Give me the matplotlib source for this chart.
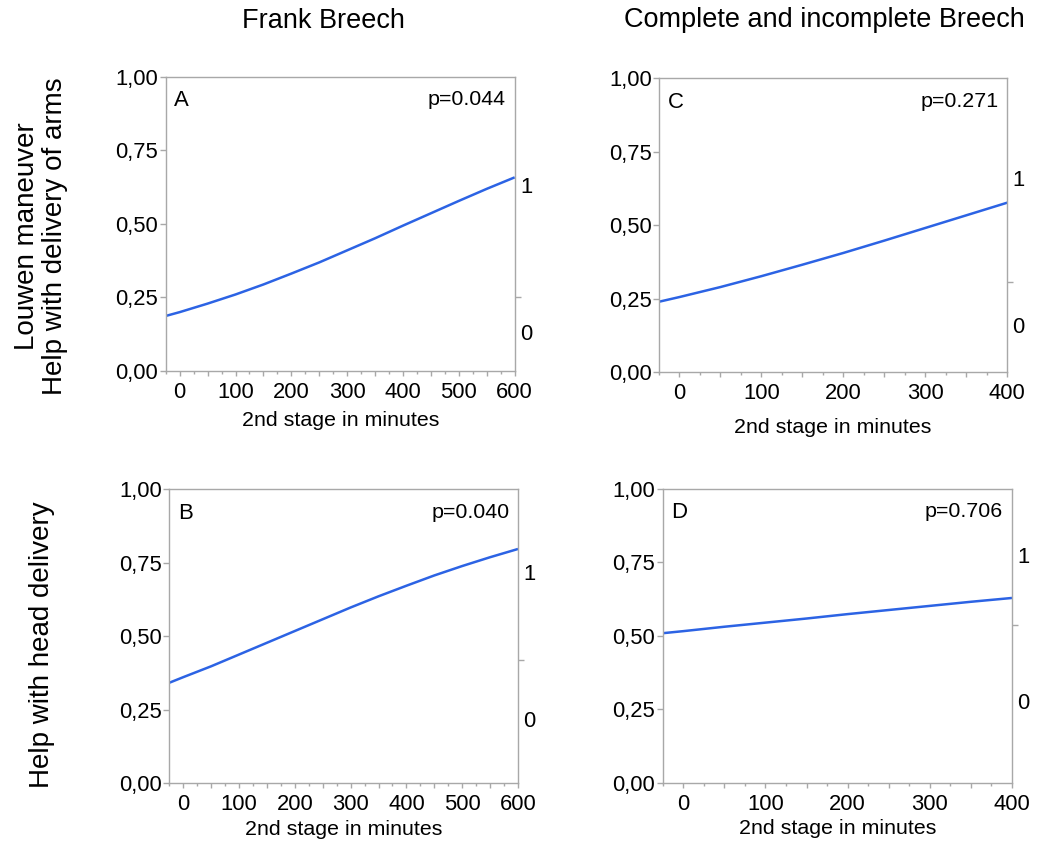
import matplotlib
matplotlib.use("Agg")
import matplotlib.pyplot as plt
from matplotlib.ticker import MultipleLocator, FixedLocator, FuncFormatter

plt.rcParams['font.family'] = ['Liberation Sans', 'DejaVu Sans']

# ---- data ----
col_titles = ["Frank Breech", "Complete and incomplete Breech"]
row_labels = ["Louwen maneuver\nHelp with delivery of arms", "Help with head delivery"]
panel_letters = ["A", "C", "B", "D"]
p_values = ["p=0.044", "p=0.271", "p=0.040", "p=0.706"]
x_max = [600, 400, 600, 400]
right_split = [0.25, 0.308, 0.42, 0.536]

x_A = [-25, 0, 50, 100, 150, 200, 250, 300, 350, 400, 450, 500, 550, 600]
y_A = [0.187, 0.200, 0.229, 0.260, 0.294, 0.331, 0.369, 0.410, 0.451, 0.494, 0.536, 0.578, 0.619, 0.658]

x_C = [-25, 0, 50, 100, 150, 200, 250, 300, 350, 400]
y_C = [0.240, 0.256, 0.290, 0.327, 0.366, 0.406, 0.448, 0.491, 0.534, 0.577]

x_B = [-25, 0, 50, 100, 150, 200, 250, 300, 350, 400, 450, 500, 550, 600]
y_B = [0.342, 0.361, 0.398, 0.438, 0.478, 0.518, 0.558, 0.598, 0.636, 0.672, 0.707, 0.739, 0.769, 0.797]

x_D = [-25, 0, 50, 100, 150, 200, 250, 300, 350, 400]
y_D = [0.509, 0.516, 0.531, 0.545, 0.559, 0.574, 0.588, 0.602, 0.616, 0.629]

series_x = [x_A, x_C, x_B, x_D]
series_y = [y_A, y_C, y_B, y_D]
y_ticks = [0.0, 0.25, 0.5, 0.75, 1.0]

# ---- layout ----
W, H = 1044, 841
fig = plt.figure(figsize=(W / 100, H / 100), dpi=100)

boxes_px = [  # left, right, top, bottom in pixels
    (165.7, 514.7, 76.7, 371.0),
    (659.0, 1007.3, 78.3, 372.3),
    (169.3, 518.0, 489.3, 783.3),
    (662.7, 1012.0, 489.0, 782.7),
]
label_pads = [6, 10, 3.5, 3.5]
spine_col = '#a8a8a8'
line_col = '#2c63e4'
FS_TICK = 15.8
FS_TXT = 15.4

def xfmt(v, p):
    return f"{int(round(v))}" if round(v) % 100 == 0 else ""

for i in range(4):
    l, r, t, b = boxes_px[i]
    ax = fig.add_axes([l / W, 1 - b / H, (r - l) / W, (b - t) / H])
    ax.plot(series_x[i], series_y[i], color=line_col, lw=1.8, solid_capstyle='butt')
    ax.set_xlim(-25, x_max[i])
    ax.set_ylim(0, 1)
    for s in ax.spines.values():
        s.set_color(spine_col)
        s.set_linewidth(1.0)
    ax.set_yticks(y_ticks)
    ax.yaxis.set_major_formatter(FuncFormatter(lambda v, p: f"{v:.2f}".replace('.', ',')))
    ax.xaxis.set_major_locator(MultipleLocator(50))
    ax.xaxis.set_major_formatter(FuncFormatter(xfmt))
    ax.xaxis.set_minor_locator(MultipleLocator(25))
    ax.tick_params(axis='y', which='major', direction='out', length=4.3, width=1,
                   color=spine_col, labelsize=FS_TICK, pad=1)
    ax.tick_params(axis='x', which='major', direction='out', length=3.8, width=1,
                   color=spine_col, labelsize=FS_TICK, pad=4)
    ax.tick_params(axis='x', which='minor', direction='out', length=2.3, width=1, color=spine_col)
    ax.set_xlabel("2nd stage in minutes", fontsize=FS_TXT, labelpad=label_pads[i])

    ax.text(0.025, 0.955, panel_letters[i], transform=ax.transAxes, fontsize=FS_TXT + 0.5,
            ha='left', va='top')
    ax.text(0.975, 0.955, p_values[i], transform=ax.transAxes, fontsize=FS_TXT,
            ha='right', va='top')

    tw = ax.twinx()
    tw.set_ylim(0, 1)
    tw.yaxis.set_major_locator(FixedLocator([right_split[i]]))
    tw.set_yticklabels([])
    tw.tick_params(axis='y', direction='out', length=4.3, width=1, color=spine_col)
    for s in tw.spines.values():
        s.set_visible(False)
    tw.text(1.015, right_split[i] / 2, "0", transform=tw.transAxes, fontsize=FS_TICK,
            ha='left', va='center')
    tw.text(1.015, (1 + right_split[i]) / 2, "1", transform=tw.transAxes, fontsize=FS_TICK,
            ha='left', va='center')

# column titles
fig.text(323 / W, 1 - 21 / H, col_titles[0], fontsize=19.5, ha='center', va='center')
fig.text(824 / W, 1 - 20 / H, col_titles[1], fontsize=19.5, ha='center', va='center')

# row labels
fig.text(41 / W, 1 - 236 / H, row_labels[0], fontsize=20, ha='center', va='center',
         rotation=90, linespacing=1.1)
fig.text(42 / W, 1 - 645 / H, row_labels[1], fontsize=20, ha='center', va='center',
         rotation=90)

fig.savefig("out.png", dpi=100)
